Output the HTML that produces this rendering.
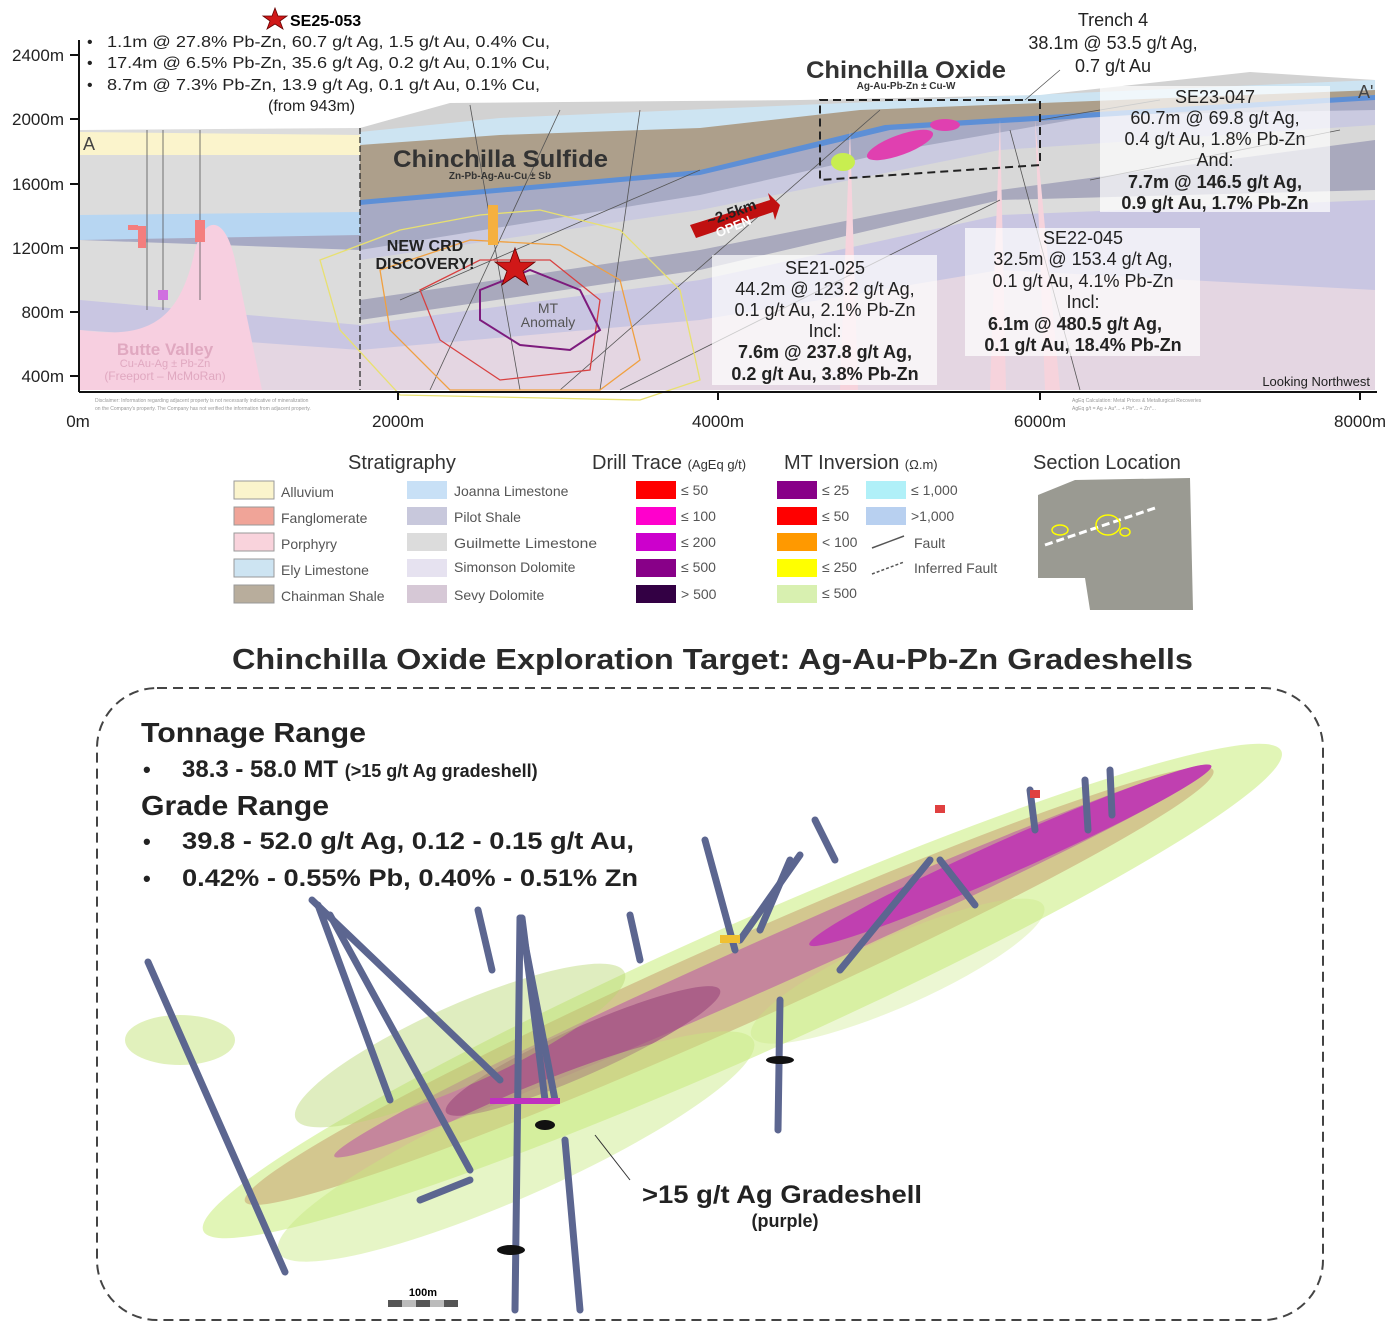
<!DOCTYPE html>
<html><head><meta charset="utf-8"><style>
body{margin:0;background:#fff;width:1392px;height:1322px;overflow:hidden;font-family:"Liberation Sans",sans-serif}
svg{position:absolute;left:0;top:0}
text{font-family:"Liberation Sans",sans-serif}
</style></head><body>
<svg width="1392" height="1322" viewBox="0 0 1392 1322">
<defs><clipPath id="cs"><rect x="80" y="60" width="1295" height="330"/></clipPath></defs>
<g clip-path="url(#cs)">
<rect x="80" y="60" width="1295" height="330" fill="#e4d6e2"/>
<polygon points="80,330 360,350 700,320 1000,270 1375,290 1375,60 80,60" fill="#c9c6e2"/>
<polygon points="80,300 360,325 700,280 1000,215 1375,200 1375,60 80,60" fill="#dcdcdc"/>
<polygon points="360,320 700,270 1000,200 1375,190 1375,60 360,60" fill="#a9a9bd"/>
<polygon points="360,300 700,250 1000,190 1375,140 1375,60 360,60" fill="#d8d8d8"/>
<polygon points="360,260 700,210 1000,150 1375,125 1375,60 360,60" fill="#cacae0"/>
<polygon points="80,240 360,250 700,195 900,150 1100,115 1375,110 1375,60 80,60" fill="#a7aac4"/>
<polygon points="80,240 360,235 360,60 80,60" fill="#b7d6f2"/>
<polygon points="80,215 360,212 360,60 80,60" fill="#dcdcdc"/>
<polygon points="360,205 700,175 890,130 1375,100 1375,60 360,60" fill="#5d8fd6"/>
<polygon points="360,200 700,170 885,125 1375,95 1375,60 360,60" fill="#ad9f8b"/>
<polygon points="360,145 500,135 700,128 860,110 1375,90 1375,60 360,60" fill="#cde4f2"/>
<polygon points="360,132 500,118 1375,80 1375,60 360,60" fill="#d2d2d2"/>
<polygon points="80,155 360,155 360,135 80,132" fill="#fbf4cc"/>
<polygon points="80,60 1375,60 1375,80 1250,72 1040,95 800,100 450,103 360,128 80,130" fill="#fff"/>
<path d="M80,390 L80,330 C150,340 180,320 195,250 C205,215 225,215 235,260 L262,390 Z" fill="#f7cfe0"/>
<polygon points="840,390 850,130 858,390" fill="#f6d3dc"/>
<polygon points="990,390 1000,120 1006,390" fill="#f6d3dc"/>
<polygon points="1045,390 1035,120 1060,390" fill="#f6d3dc"/>
</g>
<g fill="none" stroke="#555" stroke-width="0.8">
<line x1="360" y1="128" x2="360" y2="390" stroke-dasharray="6,3" stroke-width="1.2" stroke="#222"/>
<line x1="430" y1="390" x2="560" y2="110"/><line x1="520" y1="390" x2="470" y2="105"/>
<line x1="560" y1="390" x2="880" y2="110"/><line x1="600" y1="390" x2="640" y2="110"/>
<line x1="400" y1="300" x2="700" y2="170"/><line x1="620" y1="390" x2="1000" y2="200"/>
<line x1="1080" y1="390" x2="1010" y2="130"/><line x1="1090" y1="180" x2="1340" y2="130"/>
<line x1="147" y1="130" x2="147" y2="310"/><line x1="163" y1="130" x2="163" y2="310"/><line x1="200" y1="130" x2="200" y2="300"/>
<line x1="1025" y1="100" x2="1060" y2="70"/><line x1="1040" y1="120" x2="1160" y2="100"/>
</g>
<polygon points="820,100 1040,100 1040,165 820,180" fill="none" stroke="#222" stroke-width="2" stroke-dasharray="8,5"/>
<g fill="none" stroke-width="1.3">
<polygon points="320,260 400,230 480,215 540,210 620,230 680,290 700,380 640,400 400,395 340,330" stroke="#e8e070"/>
<polygon points="380,270 470,240 560,245 620,280 640,360 600,390 450,390 390,330" stroke="#f0a040"/>
<polygon points="420,290 480,260 550,260 600,300 590,370 500,380 440,340" stroke="#d84040"/>
<polygon points="480,290 530,270 580,290 600,330 570,350 520,345 480,320" stroke="#7d1b7d" stroke-width="2"/>
</g>
<rect x="138" y="226" width="8" height="22" fill="#f47e7e"/><rect x="195" y="220" width="10" height="22" fill="#f47e7e"/><rect x="158" y="290" width="10" height="10" fill="#d070e0"/><rect x="128" y="225" width="10" height="5" fill="#f47e7e"/>
<rect x="488" y="205" width="10" height="40" fill="#f5b040"/>
<g fill="#e040b0"><ellipse cx="900" cy="145" rx="35" ry="10" transform="rotate(-20 900 145)"/><ellipse cx="945" cy="125" rx="15" ry="6"/></g>
<ellipse cx="843" cy="162" rx="12" ry="9" fill="#c8ee50"/>
<polygon points="515,248 520,262 535,262 523,271 528,285 515,276 502,285 507,271 495,262 510,262" fill="#d01818" stroke="#600" stroke-width="0.8"/>
<polygon points="275,8 278,16 287,16 280,21 283,29 275,24 267,29 270,21 263,16 272,16" fill="#d01818" stroke="#600" stroke-width="0.8"/>
<polygon points="690,225 770,200 768,193 780,205 775,220 773,212 696,238" fill="#c01010"/>
<text x="713" y="228" font-size="13" fill="#fff" font-weight="bold" transform="rotate(-22 740 220)">OPEN</text>
<text x="705" y="218" font-size="15" font-weight="bold" fill="#222" transform="rotate(-20 730 210)">~2.5km</text>
<g fill="#fff" fill-opacity="0.7"><rect x="712" y="255" width="225" height="130"/><rect x="965" y="228" width="235" height="128"/><rect x="1100" y="86" width="230" height="126"/></g>
<g font-size="18" fill="#222" text-anchor="middle">
<text x="825" y="274">SE21-025</text><text x="825" y="295">44.2m @ 123.2 g/t Ag,</text><text x="825" y="316">0.1 g/t Au, 2.1% Pb-Zn</text><text x="825" y="337">Incl:</text>
<text x="825" y="358" font-weight="bold">7.6m @ 237.8 g/t Ag,</text><text x="825" y="380" font-weight="bold">0.2 g/t Au, 3.8% Pb-Zn</text>
<text x="1083" y="244">SE22-045</text><text x="1083" y="265">32.5m @ 153.4 g/t Ag,</text><text x="1083" y="287">0.1 g/t Au, 4.1% Pb-Zn</text><text x="1083" y="308">Incl:</text>
<text x="1075" y="330" font-weight="bold">6.1m @ 480.5 g/t Ag,</text><text x="1083" y="351" font-weight="bold">0.1 g/t Au, 18.4% Pb-Zn</text>
<text x="1215" y="103">SE23-047</text><text x="1215" y="124">60.7m @ 69.8 g/t Ag,</text><text x="1215" y="145">0.4 g/t Au, 1.8% Pb-Zn</text><text x="1215" y="166">And:</text>
<text x="1215" y="188" font-weight="bold">7.7m @ 146.5 g/t Ag,</text><text x="1215" y="209" font-weight="bold">0.9 g/t Au, 1.7% Pb-Zn</text>
<text x="1113" y="26">Trench 4</text><text x="1113" y="49">38.1m @ 53.5 g/t Ag,</text><text x="1113" y="72">0.7 g/t Au</text>
</g>
<text x="393" y="167" font-size="24" font-weight="bold" fill="#333" textLength="215" lengthAdjust="spacingAndGlyphs">Chinchilla Sulfide</text>
<text x="500" y="179" font-size="10" font-weight="bold" fill="#333" text-anchor="middle">Zn-Pb-Ag-Au-Cu ± Sb</text>
<text x="806" y="78" font-size="24" font-weight="bold" fill="#333" textLength="200" lengthAdjust="spacingAndGlyphs">Chinchilla Oxide</text>
<text x="906" y="89" font-size="10" font-weight="bold" fill="#333" text-anchor="middle">Ag-Au-Pb-Zn ± Cu-W</text>
<text x="425" y="251" font-size="16" font-weight="bold" fill="#222" text-anchor="middle">NEW CRD</text>
<text x="425" y="269" font-size="16" font-weight="bold" fill="#222" text-anchor="middle">DISCOVERY!</text>
<text x="548" y="313" font-size="14" fill="#555" text-anchor="middle">MT</text><text x="548" y="327" font-size="14" fill="#555" text-anchor="middle">Anomaly</text>
<text x="165" y="355" font-size="17" font-weight="bold" fill="#e0a8c0" text-anchor="middle">Butte Valley</text>
<text x="165" y="367" font-size="11" fill="#e0a8c0" text-anchor="middle">Cu-Au-Ag ± Pb-Zn</text>
<text x="165" y="380" font-size="12" fill="#e0a8c0" text-anchor="middle">(Freeport – McMoRan)</text>
<text x="83" y="150" font-size="18" fill="#444">A</text><text x="1358" y="98" font-size="18" fill="#444">A'</text>
<text x="1370" y="386" font-size="13" fill="#222" text-anchor="end">Looking Northwest</text>
<text x="290" y="26" font-size="16" font-weight="bold">SE25-053</text>
<g font-size="16" fill="#222"><text x="87" y="47">•</text><text x="107" y="47" textLength="443" lengthAdjust="spacingAndGlyphs">1.1m @ 27.8% Pb-Zn, 60.7 g/t Ag, 1.5 g/t Au, 0.4% Cu,</text>
<text x="87" y="68">•</text><text x="107" y="68" textLength="443" lengthAdjust="spacingAndGlyphs">17.4m @ 6.5% Pb-Zn, 35.6 g/t Ag, 0.2 g/t Au, 0.1% Cu,</text>
<text x="87" y="90">•</text><text x="107" y="90" textLength="433" lengthAdjust="spacingAndGlyphs">8.7m @ 7.3% Pb-Zn, 13.9 g/t Ag, 0.1 g/t Au, 0.1% Cu,</text>
<text x="268" y="111">(from 943m)</text></g>
<line x1="79" y1="40" x2="79" y2="392" stroke="#111" stroke-width="2"/>
<line x1="79" y1="392" x2="1377" y2="392" stroke="#111" stroke-width="2"/>
<g stroke="#111" stroke-width="2"><line x1="70" y1="55" x2="79" y2="55"/><line x1="70" y1="119" x2="79" y2="119"/><line x1="70" y1="184" x2="79" y2="184"/><line x1="70" y1="248" x2="79" y2="248"/><line x1="70" y1="312" x2="79" y2="312"/><line x1="70" y1="376" x2="79" y2="376"/>
<line x1="398" y1="392" x2="398" y2="400"/><line x1="718" y1="392" x2="718" y2="400"/><line x1="1040" y1="392" x2="1040" y2="400"/><line x1="1360" y1="392" x2="1360" y2="400"/></g>
<g font-size="17" fill="#222" text-anchor="end"><text x="64" y="61">2400m</text><text x="64" y="125">2000m</text><text x="64" y="190">1600m</text><text x="64" y="254">1200m</text><text x="64" y="318">800m</text><text x="64" y="382">400m</text></g>
<g font-size="17" fill="#222" text-anchor="middle"><text x="78" y="427">0m</text><text x="398" y="427">2000m</text><text x="718" y="427">4000m</text><text x="1040" y="427">6000m</text><text x="1360" y="427">8000m</text></g>
<g fill="#999" font-size="5"><text x="95" y="402">Disclaimer: Information regarding adjacent property is not necessarily indicative of mineralization</text><text x="95" y="410">on the Company's property. The Company has not verified the information from adjacent property.</text><text x="1072" y="402">AgEq Calculation: Metal Prices &amp; Metallurgical Recoveries</text><text x="1072" y="410">AgEq g/t = Ag + Au*... + Pb*... + Zn*...</text></g>

<g font-size="14" fill="#555">
<text x="348" y="469" font-size="20" fill="#333">Stratigraphy</text>
<text x="592" y="469" font-size="20" fill="#333">Drill Trace <tspan font-size="13">(AgEq g/t)</tspan></text>
<text x="784" y="469" font-size="20" fill="#333">MT Inversion <tspan font-size="13">(Ω.m)</tspan></text>
<text x="1033" y="469" font-size="20" fill="#333">Section Location</text>
<rect x="234" y="481" width="40" height="18" fill="#fbf4cc" stroke="#999"/><text x="281" y="497">Alluvium</text>
<rect x="234" y="507" width="40" height="18" fill="#f0a498" stroke="#999"/><text x="281" y="523">Fanglomerate</text>
<rect x="234" y="533" width="40" height="18" fill="#f9d3dc" stroke="#999"/><text x="281" y="549">Porphyry</text>
<rect x="234" y="559" width="40" height="18" fill="#cde4f2" stroke="#999"/><text x="281" y="575">Ely Limestone</text>
<rect x="234" y="585" width="40" height="18" fill="#b8ad9c" stroke="#999"/><text x="281" y="601">Chainman Shale</text>
<rect x="407" y="481" width="40" height="18" fill="#c8e0f6"/><text x="454" y="496">Joanna Limestone</text>
<rect x="407" y="507" width="40" height="18" fill="#c8c8dc"/><text x="454" y="522">Pilot Shale</text>
<rect x="407" y="533" width="40" height="18" fill="#dcdcdc"/><text x="454" y="548" textLength="143" lengthAdjust="spacingAndGlyphs">Guilmette Limestone</text>
<rect x="407" y="559" width="40" height="18" fill="#e6e2f0"/><text x="454" y="572">Simonson Dolomite</text>
<rect x="407" y="585" width="40" height="18" fill="#d6c8d6"/><text x="454" y="600">Sevy Dolomite</text>
<rect x="636" y="481" width="40" height="18" fill="#f00"/><text x="681" y="495">≤ 50</text>
<rect x="636" y="507" width="40" height="18" fill="#f0c"/><text x="681" y="521">≤ 100</text>
<rect x="636" y="533" width="40" height="18" fill="#c0c"/><text x="681" y="547">≤ 200</text>
<rect x="636" y="559" width="40" height="18" fill="#808"/><text x="681" y="572">≤ 500</text>
<rect x="636" y="585" width="40" height="18" fill="#304"/><text x="681" y="599">&gt; 500</text>
<rect x="777" y="481" width="40" height="18" fill="#808"/><text x="822" y="495">≤ 25</text>
<rect x="777" y="507" width="40" height="18" fill="#f00"/><text x="822" y="521">≤ 50</text>
<rect x="777" y="533" width="40" height="18" fill="#f90"/><text x="822" y="547">&lt; 100</text>
<rect x="777" y="559" width="40" height="18" fill="#ff0"/><text x="822" y="572">≤ 250</text>
<rect x="777" y="585" width="40" height="18" fill="#d8f0b0"/><text x="822" y="598">≤ 500</text>
<rect x="866" y="481" width="40" height="18" fill="#b0f0f8"/><text x="911" y="495">≤ 1,000</text>
<rect x="866" y="507" width="40" height="18" fill="#b8d0f0"/><text x="911" y="521">&gt;1,000</text>
<line x1="872" y1="548" x2="904" y2="536" stroke="#555" stroke-width="1.5"/><text x="914" y="548">Fault</text>
<line x1="872" y1="574" x2="904" y2="562" stroke="#555" stroke-width="1.5" stroke-dasharray="3,2"/><text x="914" y="573">Inferred Fault</text>
</g>
<polygon points="1038,495 1075,480 1190,478 1193,610 1090,610 1085,578 1038,578" fill="#9a9a92"/>
<line x1="1045" y1="545" x2="1155" y2="508" stroke="#fff" stroke-width="3" stroke-dasharray="8,4"/>
<g fill="none" stroke="#ff0" stroke-width="1.5"><ellipse cx="1060" cy="530" rx="8" ry="5"/><ellipse cx="1108" cy="525" rx="12" ry="10"/><ellipse cx="1125" cy="532" rx="5" ry="4"/></g>

<text x="232" y="669" font-size="29" font-weight="bold" fill="#2a2a2a" textLength="961" lengthAdjust="spacingAndGlyphs">Chinchilla Oxide Exploration Target: Ag-Au-Pb-Zn Gradeshells</text>
<rect x="97" y="688" width="1226" height="632" rx="60" fill="none" stroke="#444" stroke-width="2" stroke-dasharray="10,6"/>

<g transform="rotate(-24 720 990)">
<ellipse cx="740" cy="1000" rx="590" ry="65" fill="#c8ec7a" fill-opacity="0.55"/>
<ellipse cx="730" cy="990" rx="530" ry="42" fill="#c8a070" fill-opacity="0.55"/>
<ellipse cx="780" cy="985" rx="480" ry="24" fill="#c070a0" fill-opacity="0.75"/>
<ellipse cx="1040" cy="985" rx="220" ry="17" fill="#c040b0"/>
<ellipse cx="570" cy="990" rx="150" ry="24" fill="#a05080" fill-opacity="0.7"/>
<ellipse cx="460" cy="935" rx="180" ry="40" fill="#b8d870" fill-opacity="0.45"/>
<ellipse cx="470" cy="1050" rx="260" ry="50" fill="#c8e880" fill-opacity="0.45"/>
<ellipse cx="890" cy="1045" rx="160" ry="35" fill="#c8e880" fill-opacity="0.35"/>
</g>
<ellipse cx="180" cy="1040" rx="55" ry="25" fill="#cde890" fill-opacity="0.6"/>
<g stroke="#5c6690" stroke-width="7" stroke-linecap="round">
<line x1="148" y1="962" x2="285" y2="1272"/><line x1="312" y1="900" x2="500" y2="1080"/><line x1="318" y1="905" x2="390" y2="1100"/><line x1="330" y1="915" x2="470" y2="1170"/>
<line x1="478" y1="910" x2="492" y2="970"/><line x1="520" y1="918" x2="515" y2="1310"/><line x1="520" y1="918" x2="555" y2="1100"/><line x1="522" y1="918" x2="545" y2="1100"/>
<line x1="420" y1="1200" x2="470" y2="1180"/><line x1="565" y1="1140" x2="580" y2="1310"/><line x1="630" y1="915" x2="640" y2="960"/>
<line x1="705" y1="840" x2="735" y2="950"/><line x1="800" y1="855" x2="740" y2="940"/><line x1="790" y1="860" x2="760" y2="930"/><line x1="815" y1="820" x2="835" y2="860"/>
<line x1="780" y1="1000" x2="778" y2="1130"/><line x1="930" y1="860" x2="840" y2="970"/><line x1="940" y1="860" x2="975" y2="905"/>
<line x1="1030" y1="790" x2="1035" y2="830"/><line x1="1085" y1="780" x2="1088" y2="830"/><line x1="1110" y1="770" x2="1112" y2="815"/>
</g>
<g fill="#f0c030"><rect x="490" y="1098" width="70" height="6" fill="#c030c0"/><rect x="720" y="935" width="20" height="8"/><rect x="935" y="805" width="10" height="8" fill="#e04040"/><rect x="1030" y="790" width="10" height="8" fill="#e04040"/></g>
<ellipse cx="780" cy="1060" rx="14" ry="4" fill="#111"/><ellipse cx="511" cy="1250" rx="14" ry="5" fill="#111"/><ellipse cx="545" cy="1125" rx="10" ry="5" fill="#111"/>
<line x1="630" y1="1180" x2="595" y2="1135" stroke="#333" stroke-width="1"/>
<text x="642" y="1203" font-size="25" font-weight="bold" fill="#222" textLength="280" lengthAdjust="spacingAndGlyphs">&gt;15 g/t Ag Gradeshell</text>
<text x="785" y="1227" font-size="18" font-weight="bold" fill="#222" text-anchor="middle">(purple)</text>
<text x="423" y="1296" font-size="11" font-weight="bold" text-anchor="middle">100m</text>
<rect x="388" y="1300" width="70" height="7" fill="#555"/><rect x="402" y="1300" width="14" height="7" fill="#bbb"/><rect x="430" y="1300" width="14" height="7" fill="#bbb"/>
<g fill="#222" font-weight="bold">
<text x="141" y="742" font-size="28" textLength="225" lengthAdjust="spacingAndGlyphs">Tonnage Range</text>
<text x="143" y="777" font-size="22">•</text><text x="182" y="777" font-size="24">38.3 - 58.0 MT <tspan font-size="18">(&gt;15 g/t Ag gradeshell)</tspan></text>
<text x="141" y="815" font-size="28" textLength="188" lengthAdjust="spacingAndGlyphs">Grade Range</text>
<text x="143" y="849" font-size="22">•</text><text x="182" y="849" font-size="24" textLength="452" lengthAdjust="spacingAndGlyphs">39.8 - 52.0 g/t Ag, 0.12 - 0.15 g/t Au,</text>
<text x="143" y="886" font-size="22">•</text><text x="182" y="886" font-size="24" textLength="456" lengthAdjust="spacingAndGlyphs">0.42% - 0.55% Pb, 0.40% - 0.51% Zn</text>
</g>
</svg>
</body></html>
